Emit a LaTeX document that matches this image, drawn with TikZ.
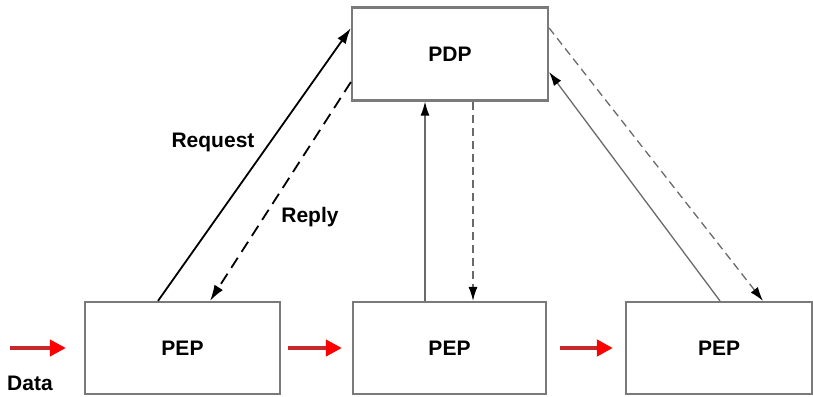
\documentclass[tikz,border=0pt]{standalone}
\usepackage{fontspec}
\setmainfont{Liberation Sans}
\usetikzlibrary{arrows.meta}
\definecolor{boxgray}{HTML}{7A7A7A}
\definecolor{lngray}{HTML}{6A6A6A}
\definecolor{darkred}{HTML}{C8282C}
\begin{document}
\begin{tikzpicture}[x=1pt,y=-1pt,
  box/.style={draw=boxgray,line width=2.2pt,fill=white,inner sep=0pt,
    font=\fontsize{21}{24}\selectfont\bfseries},
  blk/.style={draw=black,line width=1.8pt,-{Latex[length=16pt,width=10pt]}},
  gry/.style={draw=lngray,line width=1.3pt,-{Latex[length=14pt,width=9pt,color=black]}},
  ldash/.style={dash pattern=on 12pt off 7pt},
  rdash/.style={dash pattern=on 8pt off 5pt},
  redarr/.style={draw=darkred,line width=4pt,-{Triangle[length=16pt,width=16pt,color=red]}},
  lbl/.style={font=\fontsize{21}{24}\selectfont\bfseries,inner sep=0pt}]
\useasboundingbox (0,0) rectangle (813,396);
\node[box,minimum width=196pt,minimum height=93pt] (pdp) at (450,54) {PDP};
\node[box,minimum width=195pt,minimum height=92pt] (pep1) at (182.5,348) {PEP};
\node[box,minimum width=193pt,minimum height=92pt] (pep2) at (449.5,348) {PEP};
\node[box,minimum width=186pt,minimum height=92pt] (pep3) at (719,348) {PEP};
% left pair
\draw[blk] ([xshift=-24.5pt]pep1.north) -- ([yshift=26pt]pdp.west);
\draw[blk,ldash] ([yshift=-28pt]pdp.west) -- ([xshift=27.5pt]pep1.north);
% middle pair
\draw[gry] ([xshift=-24.5pt]pep2.north) -- ([xshift=-25pt]pdp.south);
\draw[gry,rdash] ([xshift=23pt]pdp.south) -- ([xshift=23.5pt]pep2.north);
% right pair
\draw[gry] ([xshift=1pt]pep3.north) -- ([yshift=-18pt]pdp.east);
\draw[gry,rdash] ([yshift=26pt]pdp.east) -- ([xshift=44pt]pep3.north);
% labels
\node[lbl] (req) at (213,142) {Request};
\node[lbl] (rep) at (310,217) {Reply};
% data flow
\coordinate (din) at (10,348);
\node[lbl] (data) at (30,383) {Data};
\draw[redarr] (din) -- ([xshift=-18pt]pep1.west);
\draw[redarr] ([xshift=7pt]pep1.east) -- ([xshift=-10pt]pep2.west);
\draw[redarr] ([xshift=13pt]pep2.east) -- ([xshift=-12pt]pep3.west);
\end{tikzpicture}
\end{document}
